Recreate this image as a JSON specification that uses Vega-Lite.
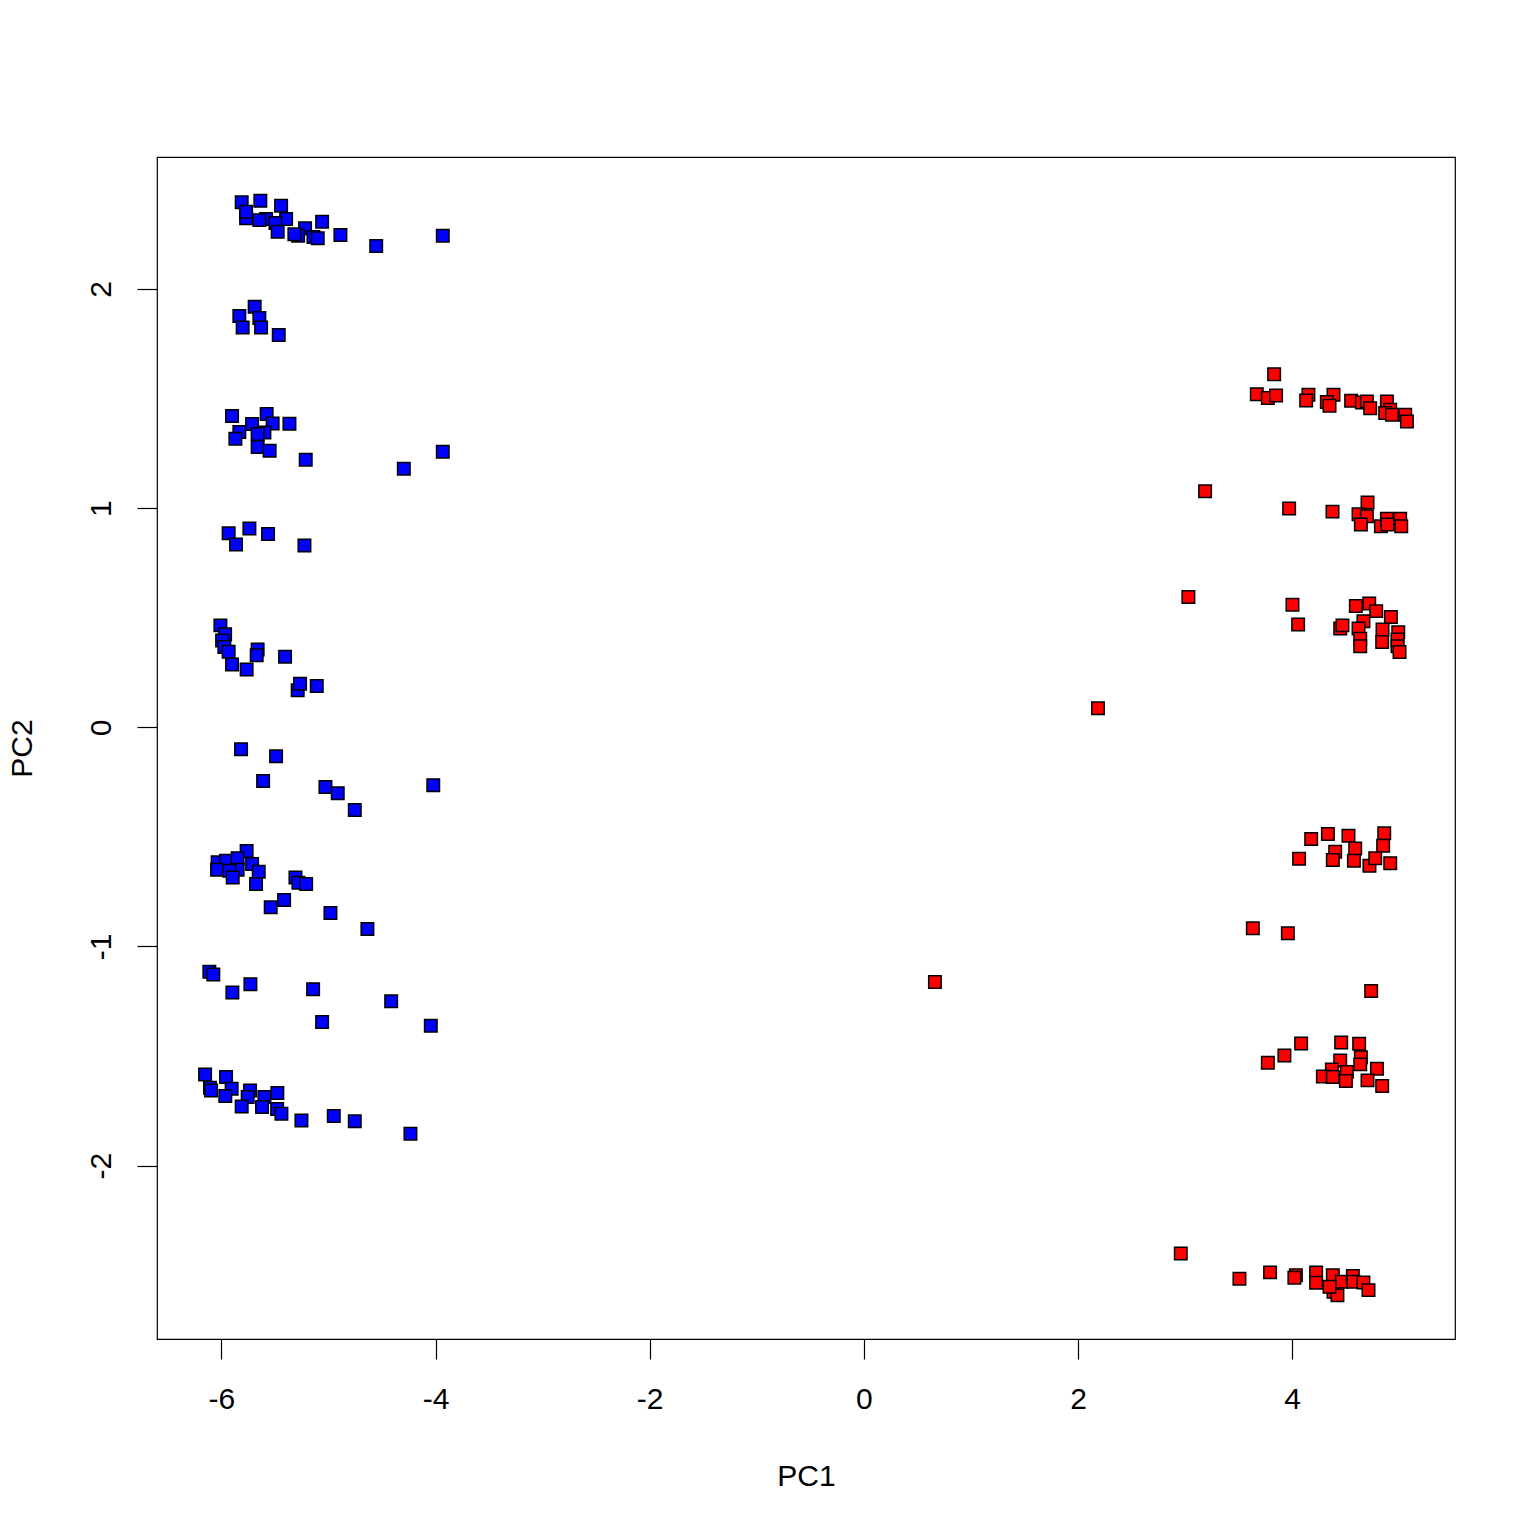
{
  "$schema": "https://vega.github.io/schema/vega-lite/v6.json",
  "width": 1298,
  "height": 1182,
  "autosize": "none",
  "padding": {"left": 157, "top": 157, "right": 81, "bottom": 197},
  "background": "white",
  "config": {
    "view": {"stroke": "black", "strokeWidth": 1.2},
    "font": "Liberation Sans",
    "axis": {
      "grid": false,
      "domain": false,
      "ticks": true,
      "tickSize": 20,
      "tickColor": "black",
      "tickWidth": 1.2,
      "labelFont": "Liberation Sans",
      "labelFontSize": 30,
      "labelColor": "black",
      "labelExpr": "'' + datum.value",
      "titleFont": "Liberation Sans",
      "titleFontSize": 30,
      "titleFontWeight": "normal",
      "titleColor": "black"
    }
  },
  "data": {
    "values": [
      {"PC1": -5.810, "PC2": 2.395, "g": "A"},
      {"PC1": -5.636, "PC2": 2.402, "g": "A"},
      {"PC1": -5.442, "PC2": 2.380, "g": "A"},
      {"PC1": -5.769, "PC2": 2.322, "g": "A"},
      {"PC1": -5.769, "PC2": 2.352, "g": "A"},
      {"PC1": -5.582, "PC2": 2.319, "g": "A"},
      {"PC1": -5.645, "PC2": 2.314, "g": "A"},
      {"PC1": -5.395, "PC2": 2.319, "g": "A"},
      {"PC1": -5.495, "PC2": 2.301, "g": "A"},
      {"PC1": -5.474, "PC2": 2.261, "g": "A"},
      {"PC1": -5.218, "PC2": 2.277, "g": "A"},
      {"PC1": -5.283, "PC2": 2.243, "g": "A"},
      {"PC1": -5.318, "PC2": 2.249, "g": "A"},
      {"PC1": -5.140, "PC2": 2.237, "g": "A"},
      {"PC1": -5.100, "PC2": 2.231, "g": "A"},
      {"PC1": -5.059, "PC2": 2.307, "g": "A"},
      {"PC1": -4.888, "PC2": 2.246, "g": "A"},
      {"PC1": -4.554, "PC2": 2.196, "g": "A"},
      {"PC1": -3.932, "PC2": 2.243, "g": "A"},
      {"PC1": -5.689, "PC2": 1.919, "g": "A"},
      {"PC1": -5.832, "PC2": 1.877, "g": "A"},
      {"PC1": -5.645, "PC2": 1.867, "g": "A"},
      {"PC1": -5.801, "PC2": 1.824, "g": "A"},
      {"PC1": -5.629, "PC2": 1.824, "g": "A"},
      {"PC1": -5.464, "PC2": 1.790, "g": "A"},
      {"PC1": -5.900, "PC2": 1.420, "g": "A"},
      {"PC1": -5.577, "PC2": 1.429, "g": "A"},
      {"PC1": -5.713, "PC2": 1.384, "g": "A"},
      {"PC1": -5.521, "PC2": 1.386, "g": "A"},
      {"PC1": -5.364, "PC2": 1.385, "g": "A"},
      {"PC1": -5.832, "PC2": 1.347, "g": "A"},
      {"PC1": -5.598, "PC2": 1.345, "g": "A"},
      {"PC1": -5.661, "PC2": 1.338, "g": "A"},
      {"PC1": -5.869, "PC2": 1.317, "g": "A"},
      {"PC1": -5.661, "PC2": 1.279, "g": "A"},
      {"PC1": -5.549, "PC2": 1.262, "g": "A"},
      {"PC1": -5.212, "PC2": 1.221, "g": "A"},
      {"PC1": -4.296, "PC2": 1.180, "g": "A"},
      {"PC1": -3.932, "PC2": 1.257, "g": "A"},
      {"PC1": -5.932, "PC2": 0.885, "g": "A"},
      {"PC1": -5.738, "PC2": 0.907, "g": "A"},
      {"PC1": -5.564, "PC2": 0.882, "g": "A"},
      {"PC1": -5.863, "PC2": 0.834, "g": "A"},
      {"PC1": -5.224, "PC2": 0.829, "g": "A"},
      {"PC1": -6.009, "PC2": 0.465, "g": "A"},
      {"PC1": -5.965, "PC2": 0.424, "g": "A"},
      {"PC1": -5.993, "PC2": 0.396, "g": "A"},
      {"PC1": -5.972, "PC2": 0.366, "g": "A"},
      {"PC1": -5.932, "PC2": 0.345, "g": "A"},
      {"PC1": -5.661, "PC2": 0.355, "g": "A"},
      {"PC1": -5.670, "PC2": 0.329, "g": "A"},
      {"PC1": -5.900, "PC2": 0.287, "g": "A"},
      {"PC1": -5.764, "PC2": 0.264, "g": "A"},
      {"PC1": -5.405, "PC2": 0.322, "g": "A"},
      {"PC1": -5.287, "PC2": 0.169, "g": "A"},
      {"PC1": -5.265, "PC2": 0.199, "g": "A"},
      {"PC1": -5.109, "PC2": 0.188, "g": "A"},
      {"PC1": -5.816, "PC2": -0.100, "g": "A"},
      {"PC1": -5.489, "PC2": -0.132, "g": "A"},
      {"PC1": -5.610, "PC2": -0.245, "g": "A"},
      {"PC1": -5.028, "PC2": -0.272, "g": "A"},
      {"PC1": -4.913, "PC2": -0.301, "g": "A"},
      {"PC1": -4.754, "PC2": -0.377, "g": "A"},
      {"PC1": -4.021, "PC2": -0.264, "g": "A"},
      {"PC1": -5.764, "PC2": -0.564, "g": "A"},
      {"PC1": -6.035, "PC2": -0.616, "g": "A"},
      {"PC1": -5.956, "PC2": -0.609, "g": "A"},
      {"PC1": -5.848, "PC2": -0.597, "g": "A"},
      {"PC1": -6.040, "PC2": -0.650, "g": "A"},
      {"PC1": -5.713, "PC2": -0.624, "g": "A"},
      {"PC1": -5.848, "PC2": -0.650, "g": "A"},
      {"PC1": -5.925, "PC2": -0.655, "g": "A"},
      {"PC1": -5.894, "PC2": -0.685, "g": "A"},
      {"PC1": -5.651, "PC2": -0.659, "g": "A"},
      {"PC1": -5.676, "PC2": -0.715, "g": "A"},
      {"PC1": -5.308, "PC2": -0.685, "g": "A"},
      {"PC1": -5.280, "PC2": -0.709, "g": "A"},
      {"PC1": -5.208, "PC2": -0.715, "g": "A"},
      {"PC1": -5.414, "PC2": -0.788, "g": "A"},
      {"PC1": -5.539, "PC2": -0.821, "g": "A"},
      {"PC1": -4.981, "PC2": -0.847, "g": "A"},
      {"PC1": -4.636, "PC2": -0.920, "g": "A"},
      {"PC1": -6.112, "PC2": -1.115, "g": "A"},
      {"PC1": -6.075, "PC2": -1.128, "g": "A"},
      {"PC1": -5.729, "PC2": -1.172, "g": "A"},
      {"PC1": -5.897, "PC2": -1.210, "g": "A"},
      {"PC1": -5.143, "PC2": -1.195, "g": "A"},
      {"PC1": -4.414, "PC2": -1.250, "g": "A"},
      {"PC1": -5.059, "PC2": -1.345, "g": "A"},
      {"PC1": -4.044, "PC2": -1.362, "g": "A"},
      {"PC1": -6.152, "PC2": -1.584, "g": "A"},
      {"PC1": -5.956, "PC2": -1.596, "g": "A"},
      {"PC1": -6.106, "PC2": -1.645, "g": "A"},
      {"PC1": -6.096, "PC2": -1.657, "g": "A"},
      {"PC1": -5.904, "PC2": -1.649, "g": "A"},
      {"PC1": -5.963, "PC2": -1.682, "g": "A"},
      {"PC1": -5.732, "PC2": -1.657, "g": "A"},
      {"PC1": -5.754, "PC2": -1.687, "g": "A"},
      {"PC1": -5.810, "PC2": -1.730, "g": "A"},
      {"PC1": -5.598, "PC2": -1.687, "g": "A"},
      {"PC1": -5.620, "PC2": -1.733, "g": "A"},
      {"PC1": -5.477, "PC2": -1.669, "g": "A"},
      {"PC1": -5.479, "PC2": -1.742, "g": "A"},
      {"PC1": -5.439, "PC2": -1.763, "g": "A"},
      {"PC1": -5.252, "PC2": -1.794, "g": "A"},
      {"PC1": -4.950, "PC2": -1.774, "g": "A"},
      {"PC1": -4.754, "PC2": -1.798, "g": "A"},
      {"PC1": -4.234, "PC2": -1.854, "g": "A"},
      {"PC1": 3.832, "PC2": 1.611, "g": "B"},
      {"PC1": 3.670, "PC2": 1.520, "g": "B"},
      {"PC1": 3.773, "PC2": 1.502, "g": "B"},
      {"PC1": 3.850, "PC2": 1.514, "g": "B"},
      {"PC1": 4.152, "PC2": 1.517, "g": "B"},
      {"PC1": 4.131, "PC2": 1.491, "g": "B"},
      {"PC1": 4.386, "PC2": 1.517, "g": "B"},
      {"PC1": 4.324, "PC2": 1.484, "g": "B"},
      {"PC1": 4.349, "PC2": 1.467, "g": "B"},
      {"PC1": 4.551, "PC2": 1.490, "g": "B"},
      {"PC1": 4.651, "PC2": 1.482, "g": "B"},
      {"PC1": 4.698, "PC2": 1.487, "g": "B"},
      {"PC1": 4.729, "PC2": 1.456, "g": "B"},
      {"PC1": 4.885, "PC2": 1.487, "g": "B"},
      {"PC1": 4.916, "PC2": 1.449, "g": "B"},
      {"PC1": 4.869, "PC2": 1.434, "g": "B"},
      {"PC1": 4.932, "PC2": 1.426, "g": "B"},
      {"PC1": 5.056, "PC2": 1.426, "g": "B"},
      {"PC1": 5.072, "PC2": 1.395, "g": "B"},
      {"PC1": 3.187, "PC2": 1.077, "g": "B"},
      {"PC1": 3.972, "PC2": 0.998, "g": "B"},
      {"PC1": 4.377, "PC2": 0.984, "g": "B"},
      {"PC1": 4.704, "PC2": 1.026, "g": "B"},
      {"PC1": 4.620, "PC2": 0.972, "g": "B"},
      {"PC1": 4.698, "PC2": 0.963, "g": "B"},
      {"PC1": 4.642, "PC2": 0.925, "g": "B"},
      {"PC1": 4.829, "PC2": 0.917, "g": "B"},
      {"PC1": 4.885, "PC2": 0.951, "g": "B"},
      {"PC1": 5.009, "PC2": 0.951, "g": "B"},
      {"PC1": 5.019, "PC2": 0.917, "g": "B"},
      {"PC1": 4.891, "PC2": 0.925, "g": "B"},
      {"PC1": 3.031, "PC2": 0.594, "g": "B"},
      {"PC1": 4.003, "PC2": 0.559, "g": "B"},
      {"PC1": 4.056, "PC2": 0.469, "g": "B"},
      {"PC1": 4.595, "PC2": 0.553, "g": "B"},
      {"PC1": 4.720, "PC2": 0.565, "g": "B"},
      {"PC1": 4.785, "PC2": 0.530, "g": "B"},
      {"PC1": 4.922, "PC2": 0.503, "g": "B"},
      {"PC1": 4.666, "PC2": 0.484, "g": "B"},
      {"PC1": 4.449, "PC2": 0.451, "g": "B"},
      {"PC1": 4.470, "PC2": 0.465, "g": "B"},
      {"PC1": 4.620, "PC2": 0.451, "g": "B"},
      {"PC1": 4.636, "PC2": 0.404, "g": "B"},
      {"PC1": 4.636, "PC2": 0.370, "g": "B"},
      {"PC1": 4.844, "PC2": 0.446, "g": "B"},
      {"PC1": 4.841, "PC2": 0.389, "g": "B"},
      {"PC1": 4.991, "PC2": 0.434, "g": "B"},
      {"PC1": 4.984, "PC2": 0.401, "g": "B"},
      {"PC1": 4.984, "PC2": 0.370, "g": "B"},
      {"PC1": 5.003, "PC2": 0.343, "g": "B"},
      {"PC1": 2.187, "PC2": 0.087, "g": "B"},
      {"PC1": 0.664, "PC2": -1.162, "g": "B"},
      {"PC1": 4.178, "PC2": -0.510, "g": "B"},
      {"PC1": 4.334, "PC2": -0.487, "g": "B"},
      {"PC1": 4.526, "PC2": -0.495, "g": "B"},
      {"PC1": 4.860, "PC2": -0.484, "g": "B"},
      {"PC1": 4.850, "PC2": -0.541, "g": "B"},
      {"PC1": 4.589, "PC2": -0.553, "g": "B"},
      {"PC1": 4.402, "PC2": -0.568, "g": "B"},
      {"PC1": 4.065, "PC2": -0.600, "g": "B"},
      {"PC1": 4.380, "PC2": -0.605, "g": "B"},
      {"PC1": 4.577, "PC2": -0.609, "g": "B"},
      {"PC1": 4.722, "PC2": -0.632, "g": "B"},
      {"PC1": 4.776, "PC2": -0.597, "g": "B"},
      {"PC1": 4.916, "PC2": -0.620, "g": "B"},
      {"PC1": 3.633, "PC2": -0.917, "g": "B"},
      {"PC1": 3.960, "PC2": -0.940, "g": "B"},
      {"PC1": 4.738, "PC2": -1.203, "g": "B"},
      {"PC1": 4.084, "PC2": -1.443, "g": "B"},
      {"PC1": 3.928, "PC2": -1.497, "g": "B"},
      {"PC1": 3.773, "PC2": -1.531, "g": "B"},
      {"PC1": 4.458, "PC2": -1.438, "g": "B"},
      {"PC1": 4.626, "PC2": -1.444, "g": "B"},
      {"PC1": 4.449, "PC2": -1.520, "g": "B"},
      {"PC1": 4.642, "PC2": -1.505, "g": "B"},
      {"PC1": 4.636, "PC2": -1.538, "g": "B"},
      {"PC1": 4.371, "PC2": -1.561, "g": "B"},
      {"PC1": 4.287, "PC2": -1.593, "g": "B"},
      {"PC1": 4.511, "PC2": -1.573, "g": "B"},
      {"PC1": 4.380, "PC2": -1.596, "g": "B"},
      {"PC1": 4.502, "PC2": -1.614, "g": "B"},
      {"PC1": 4.792, "PC2": -1.558, "g": "B"},
      {"PC1": 4.704, "PC2": -1.611, "g": "B"},
      {"PC1": 4.841, "PC2": -1.637, "g": "B"},
      {"PC1": 2.960, "PC2": -2.401, "g": "B"},
      {"PC1": 3.508, "PC2": -2.516, "g": "B"},
      {"PC1": 3.794, "PC2": -2.487, "g": "B"},
      {"PC1": 4.035, "PC2": -2.500, "g": "B"},
      {"PC1": 4.021, "PC2": -2.512, "g": "B"},
      {"PC1": 4.224, "PC2": -2.487, "g": "B"},
      {"PC1": 4.224, "PC2": -2.534, "g": "B"},
      {"PC1": 4.380, "PC2": -2.500, "g": "B"},
      {"PC1": 4.386, "PC2": -2.575, "g": "B"},
      {"PC1": 4.423, "PC2": -2.591, "g": "B"},
      {"PC1": 4.464, "PC2": -2.530, "g": "B"},
      {"PC1": 4.567, "PC2": -2.503, "g": "B"},
      {"PC1": 4.573, "PC2": -2.530, "g": "B"},
      {"PC1": 4.666, "PC2": -2.533, "g": "B"},
      {"PC1": 4.713, "PC2": -2.568, "g": "B"},
      {"PC1": 4.349, "PC2": -2.553, "g": "B"}
    ]
  },
  "mark": {"type": "point", "shape": "square", "filled": true, "size": 156, "stroke": "black", "strokeWidth": 1.5, "opacity": 1},
  "encoding": {
    "x": {
      "field": "PC1", "type": "quantitative",
      "scale": {"domain": [-6.601, 5.521], "nice": false, "zero": false},
      "axis": {
        "title": "PC1",
        "values": [-6, -4, -2, 0, 2, 4],
        "labelBaseline": "alphabetic",
        "labelPadding": 49,
        "titleBaseline": "alphabetic",
        "titleX": 649,
        "titleY": 146,
        "titleAnchor": "middle"
      }
    },
    "y": {
      "field": "PC2", "type": "quantitative",
      "scale": {"domain": [-2.791, 2.602], "nice": false, "zero": false},
      "axis": {
        "title": "PC2",
        "values": [-2, -1, 0, 1, 2],
        "labelAngle": -90,
        "labelAlign": "center",
        "labelBaseline": "alphabetic",
        "labelPadding": 27,
        "titleAngle": -90,
        "titleBaseline": "alphabetic",
        "titleX": -126,
        "titleY": 591,
        "titleAnchor": "middle"
      }
    },
    "color": {
      "field": "g", "type": "nominal",
      "scale": {"domain": ["A", "B"], "range": ["#0000FF", "#FF0000"]},
      "legend": null
    }
  }
}
